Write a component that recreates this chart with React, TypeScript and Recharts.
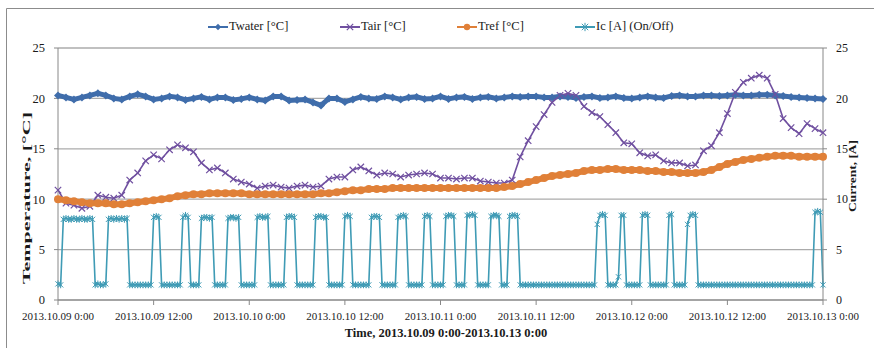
import React from "react";
import { LineChart, Line, XAxis, YAxis, CartesianGrid } from "recharts";

// ── data ──
const tickHours = [0, 12, 24, 36, 48, 60, 72, 84, 96];
const tickLabels = [
  "2013.10.09 0:00",
  "2013.10.09 12:00",
  "2013.10.10 0:00",
  "2013.10.10 12:00",
  "2013.10.11 0:00",
  "2013.10.11 12:00",
  "2013.10.12 0:00",
  "2013.10.12 12:00",
  "2013.10.13 0:00",
];
const yTicks = [0, 5, 10, 15, 20, 25];

// hourly samples, h = 0..96
const twater = [
  20.3, 20.1, 19.9, 20.1, 20.3, 20.5, 20.3, 20.0, 19.9, 20.2, 20.4, 20.2,
  19.9, 20.0, 20.2, 20.1, 19.85, 20.0, 20.15, 19.9, 20.1, 20.1, 19.85, 19.95,
  20.1, 19.9, 19.8, 20.2, 20.2, 19.8, 19.85, 19.9, 19.6, 19.3, 20.0, 20.0,
  19.65, 19.9, 20.15, 20.0, 19.95, 20.2, 20.1, 19.9, 20.1, 20.15, 19.95, 20.0,
  20.2, 19.95, 20.1, 20.15, 19.95, 20.1, 20.15, 20.0, 20.1, 20.2, 20.15, 20.2,
  20.2, 20.1, 20.1, 20.2, 20.15, 20.05, 20.15, 20.2, 20.05, 20.1, 20.2, 20.05,
  20.0, 20.1, 20.2, 20.1, 20.05, 20.25, 20.3, 20.2, 20.2, 20.3, 20.3, 20.25,
  20.3, 20.35, 20.3, 20.3, 20.35, 20.35, 20.3, 20.25, 20.15, 20.1, 20.05, 20.0,
  19.95,
];
const tair = [
  10.9, 9.6, 9.4, 9.1, 9.3, 10.4, 10.2, 10.1, 10.4, 11.9, 12.6, 13.8,
  14.4, 14.0, 14.9, 15.4, 15.1, 14.7, 13.6, 12.9, 13.1, 12.6, 12.0, 11.7,
  11.5, 11.1, 11.3, 11.4, 11.2, 11.1, 11.3, 11.4, 11.2, 11.3, 12.0, 12.2,
  12.2, 12.9, 13.2, 12.8, 12.4, 12.6, 12.5, 12.2, 12.4, 12.5, 12.6, 12.5,
  12.1, 12.1, 12.0, 12.1, 12.1, 11.8, 11.7, 11.6, 11.6, 11.9, 14.2, 15.8,
  17.2, 18.4, 19.6, 20.3, 20.5, 20.3, 19.2, 18.6, 18.2, 17.4, 16.6, 15.6,
  15.5, 14.6, 14.3, 14.4, 13.8, 13.6, 13.6, 13.3, 13.4, 14.8, 15.3, 16.6,
  18.5, 20.6, 21.6, 22.0, 22.3, 22.0, 20.4, 18.0, 17.1, 16.5, 17.5, 17.0,
  16.6,
];
const tref = [
  10.0, 9.9, 9.8, 9.7, 9.6, 9.6, 9.6, 9.5, 9.5, 9.6, 9.7, 9.8,
  9.9, 10.0, 10.1, 10.3, 10.4, 10.5, 10.5, 10.6, 10.6, 10.6, 10.6, 10.6,
  10.5, 10.5, 10.5, 10.5, 10.5, 10.5, 10.5, 10.5, 10.5, 10.6, 10.6, 10.7,
  10.8, 10.9, 10.9, 11.0, 11.0, 11.0, 11.1, 11.1, 11.1, 11.1, 11.1, 11.1,
  11.1, 11.1, 11.1, 11.1, 11.1, 11.1, 11.1, 11.1, 11.2, 11.3, 11.5, 11.7,
  11.9, 12.1, 12.3, 12.4, 12.5, 12.6, 12.8, 12.9, 12.9, 13.0, 13.0, 12.9,
  12.9, 12.9, 12.8, 12.8, 12.7, 12.7, 12.6, 12.6, 12.6, 12.7, 12.9, 13.2,
  13.5, 13.7, 13.9, 14.0, 14.1, 14.2, 14.3, 14.3, 14.3, 14.2, 14.2, 14.2,
  14.2,
];
// compressor current, 20-minute samples (24 per row = 8 h)
const icAmps = [
  1.6, 1.5, 8.0, 8.1, 8.0, 8.0, 8.1, 8.0, 8.0, 8.1, 8.0, 8.0, 8.1, 8.0, 1.5, 1.6, 1.5, 1.5, 1.6, 8.0, 8.1, 8.0, 8.1, 8.0,
  8.1, 8.0, 8.1, 1.5, 1.5, 1.5, 1.5, 1.5, 1.5, 1.5, 1.5, 1.5, 8.2, 8.3, 8.2, 1.5, 1.5, 1.5, 1.5, 1.5, 1.5, 1.5, 1.5, 8.2,
  8.4, 8.2, 1.5, 1.5, 1.5, 1.5, 8.1, 8.2, 8.2, 8.1, 8.2, 1.5, 1.5, 1.5, 1.5, 1.5, 8.1, 8.2, 8.2, 8.1, 8.2, 1.5, 1.5, 1.5,
  1.5, 1.5, 1.5, 8.2, 8.3, 8.2, 8.2, 8.3, 1.5, 1.5, 1.5, 1.5, 1.5, 1.5, 8.2, 8.3, 8.3, 8.2, 1.5, 1.5, 1.5, 1.5, 1.5, 1.5,
  1.5, 8.2, 8.3, 8.3, 8.2, 8.2, 1.5, 1.5, 1.5, 1.5, 1.5, 1.5, 8.3, 8.4, 8.3, 1.5, 1.5, 1.5, 1.5, 1.5, 1.5, 1.5, 8.2, 8.3,
  8.3, 8.2, 1.5, 1.5, 1.5, 1.5, 1.5, 1.5, 8.2, 8.3, 8.4, 8.3, 1.5, 1.5, 1.5, 1.5, 1.5, 1.5, 8.3, 8.4, 8.3, 1.5, 1.5, 1.5,
  1.5, 1.5, 8.3, 8.4, 8.4, 8.3, 1.5, 1.5, 1.5, 1.5, 8.4, 8.4, 8.5, 8.4, 1.5, 1.5, 1.5, 1.5, 1.5, 8.3, 8.4, 8.4, 8.3, 1.5,
  1.5, 1.5, 8.3, 8.4, 8.4, 8.3, 1.5, 1.5, 1.5, 1.5, 1.5, 1.5, 1.5, 1.5, 1.5, 1.5, 1.5, 1.5, 1.5, 1.5, 1.5, 1.5, 1.5, 1.5,
  1.5, 1.5, 1.5, 1.5, 1.5, 1.5, 1.5, 1.5, 1.5, 1.5, 1.5, 7.5, 8.4, 8.5, 8.4, 1.5, 1.5, 1.5, 1.5, 2.3, 8.4, 8.4, 1.5, 1.5,
  1.5, 1.5, 1.5, 1.5, 8.4, 8.5, 8.4, 1.5, 1.5, 1.5, 1.5, 1.5, 1.5, 1.5, 8.4, 8.5, 1.5, 1.5, 1.5, 1.5, 1.5, 7.5, 8.4, 8.5,
  8.4, 1.5, 1.5, 1.5, 1.5, 1.5, 1.5, 1.5, 1.5, 1.5, 1.5, 1.5, 1.5, 1.5, 1.5, 1.5, 1.5, 1.5, 1.5, 1.5, 1.5, 1.5, 1.5, 1.5,
  1.5, 1.5, 1.5, 1.5, 1.5, 1.5, 1.5, 1.5, 1.5, 1.5, 1.5, 1.5, 1.5, 1.5, 1.5, 1.5, 1.5, 1.5, 1.5, 1.5, 1.5, 8.7, 8.8, 8.7,
  1.5,
];

const tempRows = twater.map((v, i) => ({ h: i, twater: v, tair: tair[i], tref: tref[i] }));
const icRows = icAmps.map((v, i) => ({ h: i / 3, ic: v }));

const C = {
  twater: "#3F6DAB",
  tair: "#7050A0",
  tref: "#E08038",
  ic: "#3F9BB5",
  grid: "#ABABAB",
  axis: "#888888",
  text: "#1a1a1a",
};
const FONT = "'Liberation Serif', 'Times New Roman', serif";

type DotArgs = { cx?: number; cy?: number; index?: number };

// ── marker shapes ──
function diamond(cx: number, cy: number, s: number, color: string, key?: string) {
  return (
    <path key={key} d={`M${cx},${cy - s}L${cx + s},${cy}L${cx},${cy + s}L${cx - s},${cy}Z`} fill={color} />
  );
}
function cross(cx: number, cy: number, s: number, color: string, key?: string) {
  return (
    <path
      key={key}
      d={`M${cx - s},${cy - s}L${cx + s},${cy + s}M${cx - s},${cy + s}L${cx + s},${cy - s}`}
      stroke={color}
      strokeWidth={1.2}
      fill="none"
    />
  );
}
function star(cx: number, cy: number, s: number, color: string, key?: string) {
  return (
    <path
      key={key}
      d={`M${cx - s},${cy - s}L${cx + s},${cy + s}M${cx - s},${cy + s}L${cx + s},${cy - s}M${cx},${cy - s * 1.3}L${cx},${cy + s * 1.3}`}
      stroke={color}
      strokeWidth={1}
      fill="none"
    />
  );
}

const twaterDot = ({ cx, cy, index }: DotArgs) =>
  cx == null || cy == null ? <g key={`tw${index}`} /> : diamond(cx, cy, 4, C.twater, `tw${index}`);
const tairDot = ({ cx, cy, index }: DotArgs) =>
  cx == null || cy == null ? <g key={`ta${index}`} /> : cross(cx, cy, 3.2, C.tair, `ta${index}`);
const trefDot = ({ cx, cy, index }: DotArgs) =>
  cx == null || cy == null ? <g key={`tr${index}`} /> : <circle key={`tr${index}`} cx={cx} cy={cy} r={4} fill={C.tref} />;
const icDot = ({ cx, cy, index }: DotArgs) =>
  cx == null || cy == null ? <g key={`ic${index}`} /> : star(cx, cy, 2.6, C.ic, `ic${index}`);

const legendItems = [
  { label: "Twater [°C]", color: C.twater, mark: diamond, x: 208 },
  { label: "Tair [°C]", color: C.tair, mark: cross, x: 340 },
  { label: "Tref [°C]", color: C.tref, mark: (cx: number, cy: number, s: number, c: string) => <circle cx={cx} cy={cy} r={s} fill={c} />, x: 457 },
  { label: "Ic [A] (On/Off)", color: C.ic, mark: star, x: 575 },
];

export default function App() {
  return (
    <div style={{ position: "absolute", left: 0, top: 0, width: 874, height: 348, background: "#fff", fontFamily: FONT }}>
      <LineChart width={874} height={348} margin={{ top: 48, right: 0, bottom: 18, left: 0 }}>
        <CartesianGrid yAxisId="left" vertical={false} stroke={C.grid} strokeWidth={1.3} />
        <XAxis
          type="number"
          dataKey="h"
          domain={[0, 96]}
          ticks={tickHours}
          tickFormatter={(v: number) => tickLabels[tickHours.indexOf(v)] ?? ""}
          height={30}
          tickSize={5}
          tickMargin={7}
          stroke={C.axis}
          tick={{ fill: C.text, fontSize: 11, fontFamily: FONT }}
          interval={0}
        />
        <YAxis
          yAxisId="left"
          domain={[0, 25]}
          ticks={yTicks}
          width={58}
          tickSize={4}
          tickMargin={9}
          stroke={C.axis}
          tick={{ fill: C.text, fontSize: 12.5, fontFamily: FONT }}
        />
        <YAxis
          yAxisId="right"
          orientation="right"
          domain={[0, 25]}
          ticks={yTicks}
          width={51}
          tickSize={4}
          tickMargin={9}
          stroke={C.axis}
          tick={{ fill: C.text, fontSize: 12, fontFamily: FONT, textAnchor: "start" }}
        />
        <Line
          yAxisId="left"
          data={tempRows}
          dataKey="twater"
          type="linear"
          stroke={C.twater}
          strokeWidth={5}
          dot={twaterDot}
          activeDot={false}
          isAnimationActive={false}
        />
        <Line
          yAxisId="left"
          data={tempRows}
          dataKey="tair"
          type="linear"
          stroke={C.tair}
          strokeWidth={1.6}
          dot={tairDot}
          activeDot={false}
          isAnimationActive={false}
        />
        <Line
          yAxisId="left"
          data={tempRows}
          dataKey="tref"
          type="linear"
          stroke={C.tref}
          strokeWidth={6}
          dot={trefDot}
          activeDot={false}
          isAnimationActive={false}
        />
        <Line
          yAxisId="right"
          data={icRows}
          dataKey="ic"
          type="linear"
          stroke={C.ic}
          strokeWidth={1.6}
          dot={icDot}
          activeDot={false}
          isAnimationActive={false}
        />
      </LineChart>

      {/* frame + axis titles */}
      <svg width={874} height={348} style={{ position: "absolute", left: 0, top: 0, pointerEvents: "none" }}>
        <line x1={6.5} y1={8.5} x2={874} y2={8.5} stroke="#8C8C8C" />
        <line x1={6.5} y1={8.5} x2={6.5} y2={348} stroke="#8C8C8C" />
        <text
          x={26.5}
          y={198}
          transform="rotate(-90 26.5 198)"
          textAnchor="middle"
          dominantBaseline="central"
          fontWeight="bold"
          fontSize={10.5}
          textLength={172}
          lengthAdjust="spacingAndGlyphs"
          fill={C.text}
          fontFamily={FONT}
        >
          Temperature, [°C]
        </text>
        <text
          x={852}
          y={176}
          transform="rotate(-90 852 176)"
          textAnchor="middle"
          dominantBaseline="central"
          fontWeight="bold"
          fontSize={11}
          textLength={72}
          lengthAdjust="spacingAndGlyphs"
          fill={C.text}
          fontFamily={FONT}
        >
          Current, [A]
        </text>
        <text x={446} y={337} textAnchor="middle" fontWeight="bold" fontSize={12.5} fill={C.text} fontFamily={FONT}>
          Time, 2013.10.09 0:00-2013.10.13 0:00
        </text>
      </svg>

      {/* legend */}
      {legendItems.map((it) => (
        <div key={it.label} style={{ position: "absolute", left: it.x, top: 19, height: 15, display: "flex", alignItems: "center" }}>
          <svg width={20} height={12} style={{ marginRight: 1 }}>
            <line x1={0} y1={6} x2={20} y2={6} stroke={it.color} strokeWidth={2} />
            {it.mark(10, 6, 3.2, it.color)}
          </svg>
          <span style={{ fontSize: 12.5, lineHeight: "15px", color: C.text, whiteSpace: "nowrap" }}>{it.label}</span>
        </div>
      ))}
    </div>
  );
}
